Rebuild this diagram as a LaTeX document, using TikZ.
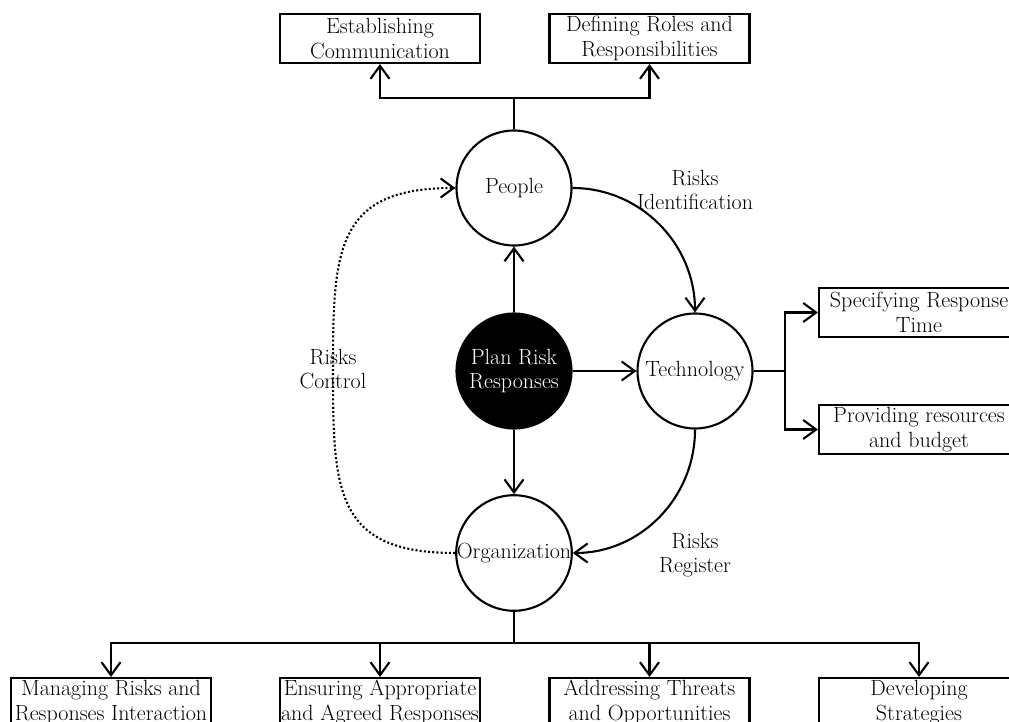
\documentclass[tikz,border=0pt]{standalone}
\usepackage{tikz}
\usetikzlibrary{arrows.meta}

\tikzset{
  circ/.style = {draw, circle, line width = 2.1pt, minimum size = 115pt, inner sep = 0pt, align = center},
  box/.style  = {draw, rectangle, line width = 2.1pt, minimum width = 200pt, minimum height = 49pt, inner sep = 0pt, align = center},
  lbl/.style  = {align = center},
  arr/.style  = {line width = 2.1pt, -{Straight Barb[length=13pt, width=19pt]}}
}

\begin{document}
\begin{tikzpicture}[x = 1pt, y = 1pt, font = \fontsize{22}{24.5}\selectfont]
  \useasboundingbox (0, 0) rectangle (1009, -722);
  % circles
  \node[circ] (people) at (514, -188) {People};
  \node[circ, fill = black, text = white] (plan) at (514, -371) {Plan Risk\\Responses};
  \node[circ] (tech) at (695, -371) {Technology};
  \node[circ] (org) at (514, -553) {Organization};
  % boxes
  \node[box] (est)   at (380, -38.5) {Establishing\\Communication};
  \node[box] (roles) at (649.5, -38.5) {Defining Roles and\\Responsibilities};
  \node[box] (spec)  at (919, -312.5) {Specifying Response\\Time};
  \node[box] (prov)  at (919, -429.5) {Providing resources\\and budget};
  \node[box] (mng)   at (111, -702.5) {Managing Risks and\\Responses Interaction};
  \node[box] (ens)   at (380, -702.5) {Ensuring Appropriate\\and Agreed Responses};
  \node[box] (addr)  at (649.5, -702.5) {Addressing Threats\\and Opportunities};
  \node[box] (dev)   at (919, -702.5) {Developing\\Strategies};
  % junctions
  \coordinate (jt) at (514, -98);
  \coordinate (jr) at (785, -371);
  \coordinate (jb) at (514, -643);
  \coordinate (rc) at (333, -370);
  % from the centre
  \draw[arr] (plan) -- (people);
  \draw[arr] (plan) -- (tech);
  \draw[arr] (plan) -- (org);
  % the cycle
  \draw[arr] (people.east) to[out = 0, in = 90] (tech.north);
  \draw[arr] (tech.south) to[out = -90, in = 0] (org.east);
  \draw[arr, dash pattern = on 2pt off 2.2pt]
        (org.west) to[out = 180, in = -90, looseness = 1.4] (rc)
        to[out = 90, in = 180, looseness = 1.4] (people.west);
  \node[lbl] (lid)  at (695, -190) {Risks\\Identification};
  \node[lbl] (lctl) at (333, -369) {Risks\\Control};
  \node[lbl] (lreg) at (695, -555) {Risks\\Register};
  % branches
  \draw[line width = 2.1pt] (people.north) -- (jt);
  \draw[arr] (jt) -| (est.south);
  \draw[arr] (jt) -| (roles.south);
  \draw[line width = 2.1pt] (tech.east) -- (jr);
  \draw[arr] (jr) |- (spec.west);
  \draw[arr] (jr) |- (prov.west);
  \draw[line width = 2.1pt] (org.south) -- (jb);
  \foreach \b in {mng, ens, addr, dev}{
  \draw[arr] (jb) -| (\b.north);
  }
\end{tikzpicture}
\end{document}
